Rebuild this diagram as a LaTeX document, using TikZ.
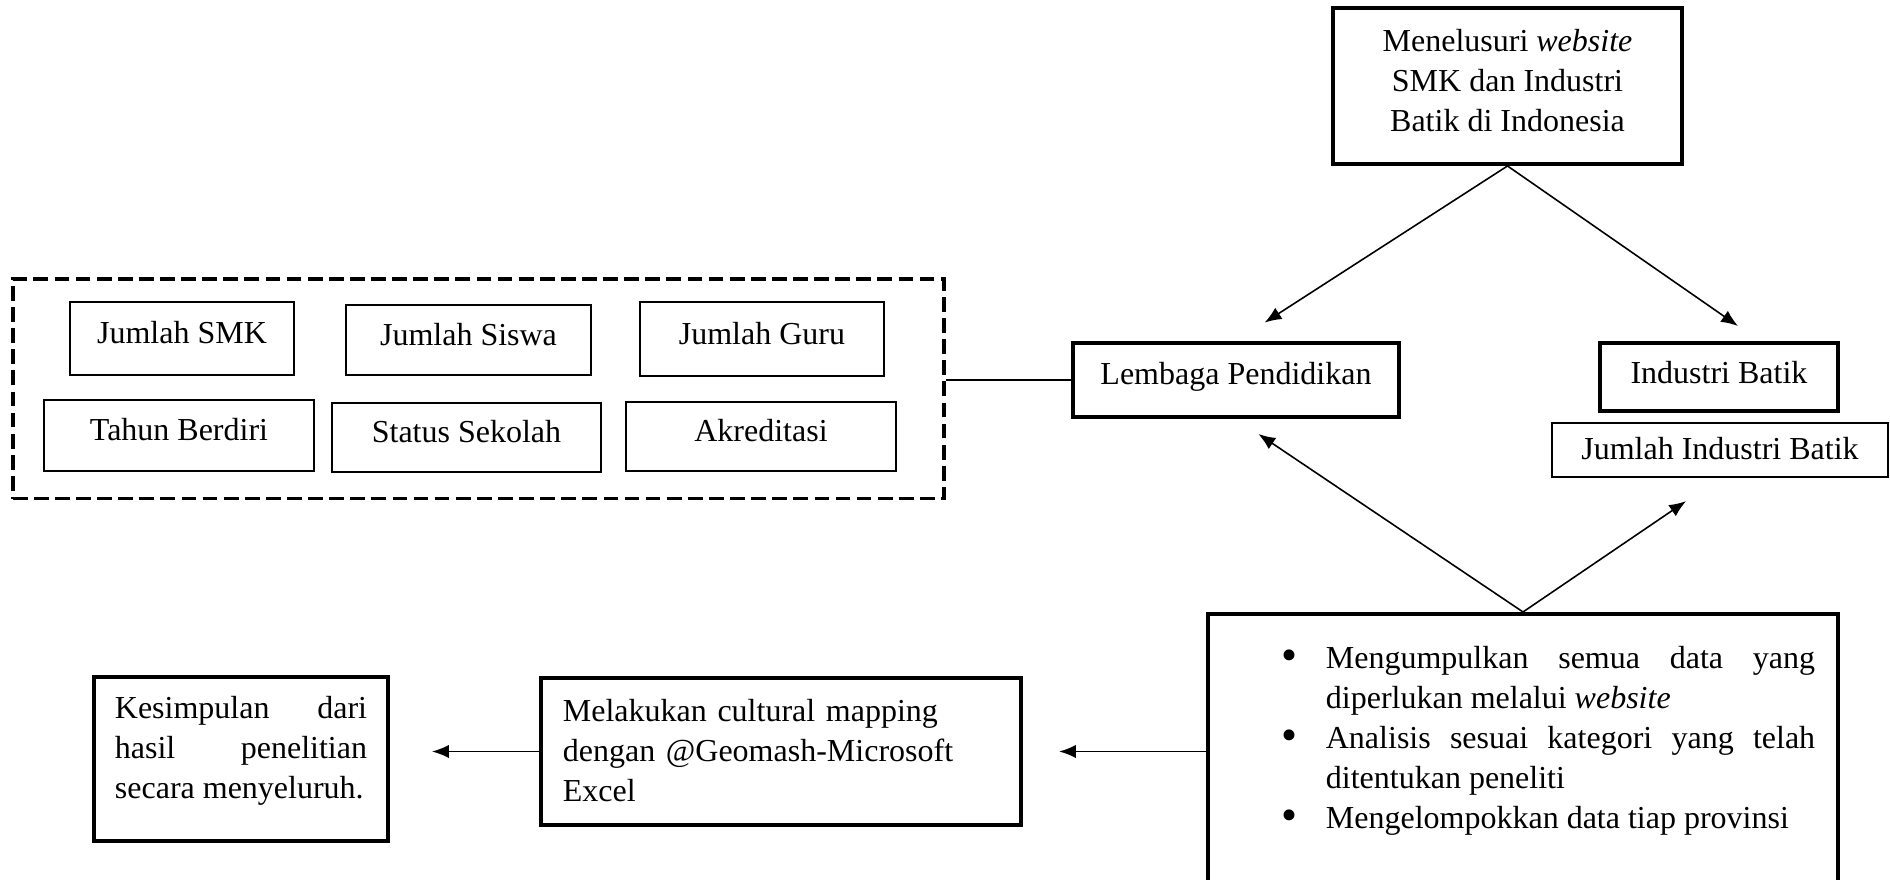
\documentclass[tikz,border=0pt]{standalone}
\usepackage{fontspec}
\setmainfont{Liberation Serif}
\usetikzlibrary{arrows.meta,calc}
\begin{document}
\begin{tikzpicture}[x=0.01cm,y=-0.01cm,
  every node/.style={font=\fontsize{9.1}{11.4}\selectfont},
  thickbox/.style={draw, line width=1.1pt, inner sep=0pt},
  thinbox/.style={draw, line width=0.6pt, inner sep=0pt, text height=6.2pt, text depth=3.2pt},
  groupbox/.style={draw, line width=1.1pt, dash pattern=on 4.2pt off 1.8pt, inner sep=0pt},
  conn/.style={line width=0.45pt},
  arr/.style={conn, -{Latex[length=4.8pt,width=3.8pt]}}
]
\useasboundingbox (0,0) rectangle (1890,880);

% top box
\node[thickbox, minimum width=3.49cm, minimum height=1.56cm, align=center] (top) at (1507.5,86)
  {Menelusuri \textit{website}\\SMK dan Industri\\Batik di Indonesia\rule[-3.1pt]{0pt}{0pt}};

% group of attributes
\node[groupbox, minimum width=9.31cm, minimum height=2.19cm] (grp) at (478.5,389) {};
\node[thinbox, minimum width=2.24cm, minimum height=0.73cm] (smk) at (182,338.5) {Jumlah SMK};
\node[thinbox, minimum width=2.45cm, minimum height=0.70cm] (siswa) at (468.5,340) {Jumlah Siswa};
\node[thinbox, minimum width=2.44cm, minimum height=0.74cm] (guru) at (762,339) {Jumlah Guru};
\node[thinbox, minimum width=2.70cm, minimum height=0.71cm] (tahun) at (179,435.5) {Tahun Berdiri};
\node[thinbox, minimum width=2.69cm, minimum height=0.69cm] (status) at (466.5,437.5) {Status Sekolah};
\node[thinbox, minimum width=2.70cm, minimum height=0.69cm] (akred) at (761,436.5) {Akreditasi};

% categories
\node[thickbox, minimum width=3.26cm, minimum height=0.74cm, text height=6.2pt, text depth=3.4pt] (lemb) at (1236,380) {Lembaga Pendidikan};
\node[thickbox, minimum width=2.38cm, minimum height=0.68cm, text height=6.2pt, text depth=2.6pt] (ib) at (1719,377) {Industri Batik};
\node[thinbox, minimum width=3.36cm, minimum height=0.54cm, text height=6.2pt, text depth=0.6pt] (jib) at (1720,450) {Jumlah Industri Batik};

% bottom right process box
\node[thickbox, minimum width=6.30cm, minimum height=2.76cm, align=left] (br) at (1523,752)
  {\hspace*{0.51cm}\makebox[0.44cm][l]{\raisebox{-0.6pt}{\fontsize{13}{11.4}\selectfont\textbullet}}\hbox to 4.89cm{Mengumpulkan\hfill semua\hfill data\hfill yang}\\
   \hspace*{0.95cm}diperlukan melalui \textit{website}\\
   \hspace*{0.51cm}\makebox[0.44cm][l]{\raisebox{-0.6pt}{\fontsize{13}{11.4}\selectfont\textbullet}}\hbox to 4.89cm{Analisis\hfill sesuai\hfill kategori\hfill yang\hfill telah}\\
   \hspace*{0.95cm}ditentukan peneliti\\
   \hspace*{0.51cm}\makebox[0.44cm][l]{\raisebox{-0.6pt}{\fontsize{13}{11.4}\selectfont\textbullet}}Mengelompokkan data tiap provinsi\rule[-8.3pt]{0pt}{0pt}};

% mapping box
\node[thickbox, minimum width=4.80cm, minimum height=1.47cm, text width=4.36cm, align=left] (mel) at (781,751.5)
  {Melakukan cultural mapping\\dengan @Geomash-Microsoft\\Excel\rule[-0.8pt]{0pt}{0pt}};

% conclusion box
\node[thickbox, minimum width=2.94cm, minimum height=1.64cm, align=left] (kes) at (241,759)
  {\hbox to 2.52cm{Kesimpulan\hfill dari}\\
   \hbox to 2.52cm{hasil\hfill penelitian}\\
   secara menyeluruh.\rule[-6.6pt]{0pt}{0pt}};

% connectors
\coordinate (ibtip) at (1738,326);
\draw[arr, shorten >=0.34cm] (top.south) -- (lemb.north);
\draw[arr] (top.south) -- (ibtip);
\draw[conn] (grp.east |- lemb.west) -- (lemb.west);
\draw[arr, shorten >=0.27cm] (br.north) -- (lemb.south);
\draw[arr, shorten >=0.41cm] (br.north) -- (jib.south);
\draw[arr, shorten >=0.36cm] (br.west |- mel.east) -- (mel.east);
\draw[arr, shorten >=0.42cm] (mel.west) -- (mel.west -| kes.east);
\end{tikzpicture}
\end{document}
